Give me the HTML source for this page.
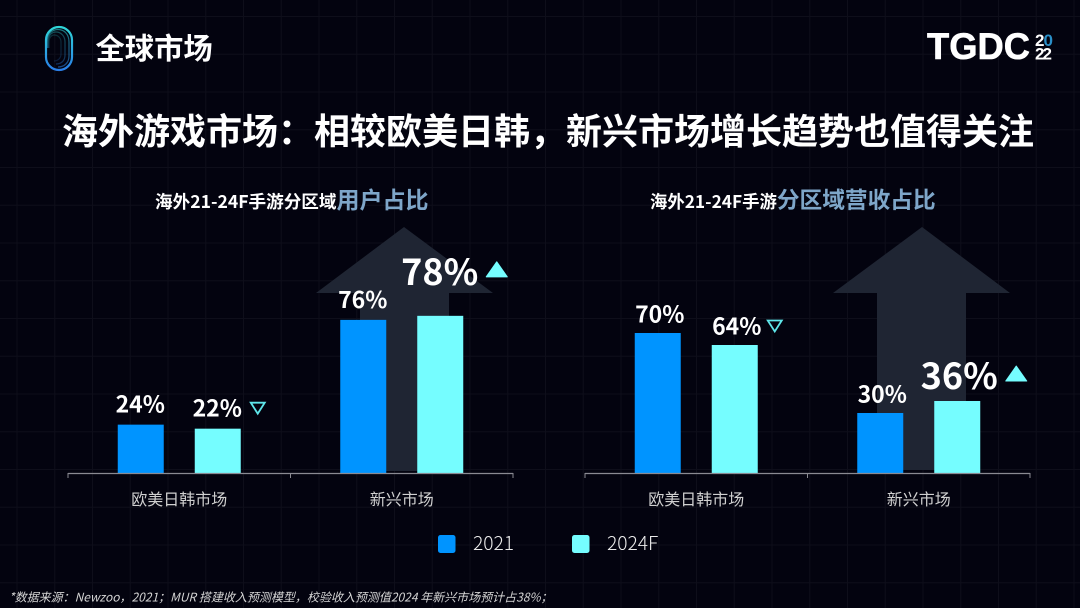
<!DOCTYPE html>
<html lang="zh">
<head>
<meta charset="utf-8">
<title>全球市场</title>
<style>
html,body{margin:0;padding:0;background:#03030f;}
#stage{position:relative;width:1080px;height:608px;overflow:hidden;background:#03030f;}
svg{display:block;position:absolute;left:0;top:0;}
text{font-family:"Liberation Sans","Noto Sans CJK SC",sans-serif;}
.cjk{font-family:"Noto Sans CJK SC","Liberation Sans",sans-serif;}
</style>
</head>
<body>
<div id="stage">
<svg id="svg" width="1080" height="608" viewBox="0 0 1080 608" xmlns="http://www.w3.org/2000/svg">
  <defs>
    <linearGradient id="logoGrad" x1="0" y1="0" x2="0" y2="1">
      <stop offset="0" stop-color="#2fd6d8"/>
      <stop offset="1" stop-color="#2a7fe8"/>
    </linearGradient>
  </defs>
  <g id="grid"></g>

  <g fill="none" stroke="url(#logoGrad)">
    <rect x="46" y="27" width="26" height="43" rx="13" stroke-width="2.2"/>
    <path d="M47 48 V42 C47 33 53 29.5 58 29.5 C64 29.5 69 34 69 42 V56 C69 63 64 67 58 67" stroke-width="1.2" opacity=".55"/>
    <path d="M48 48 V42 C48 35 52 32 56 32 C61 32 65 36 65 42 V55 C65 61 61 64 56 64" stroke-width="1.2" opacity=".35"/>
    <path d="M49 48 V42 C49 37 52 35 54 35 C58 35 61 38 61 42 V54 C61 58 58 61 54 61" stroke-width="1.2" opacity=".2"/>
  </g>
  <text class="cjk" x="95.5" y="59" font-size="29.3" font-weight="700" fill="#fff">全球市场</text>

  <g>
    <text x="927" y="59" font-size="37" font-weight="700" fill="#fff" stroke="#fff" stroke-width=".6" textLength="103" lengthAdjust="spacingAndGlyphs" style="font-family:'Liberation Sans',sans-serif">TGDC</text>
    <text x="1035" y="46.2" font-size="17" font-weight="700" fill="#fff">2</text>
    <text x="1043.5" y="46.2" font-size="17" font-weight="700" fill="#2a8fc8">0</text>
    <text x="1035" y="59.4" font-size="17" font-weight="700" fill="#fff" textLength="17">22</text>
  </g>

  <text class="cjk" x="62" y="144" font-size="36" font-weight="700" fill="#fff" textLength="972">海外游戏市场：相较欧美日韩，新兴市场增长趋势也值得关注</text>

  <text class="cjk" x="155" y="208" font-size="17.6" font-weight="700" fill="#fff">海外21-24F手游分区域<tspan font-size="23" fill="#7ea6c9">用户占比</tspan></text>
  <text class="cjk" x="650" y="208" font-size="17.35" font-weight="700" fill="#fff">海外21-24F手游<tspan font-size="22.7" fill="#7ea6c9">分区域营收占比</tspan></text>

  <polygon points="404,227 493,293 449,293 449,471 360,471 360,293 316,293" fill="#1f2533"/>
  <polygon points="922,227 1010,293 966,293 966,470 877,470 877,293 833,293" fill="#1f2533"/>

  <g id="charts"></g>

  <g>
    <g>
      <rect x="438" y="535" width="17.5" height="18" rx="2.5" fill="#0094ff"/>
      <text class="cjk" x="473" y="550" font-size="19.2" font-weight="300" fill="#ececec">2021</text>
    </g>
    <g>
      <rect x="572" y="535" width="17.5" height="18" rx="2.5" fill="#75fdff"/>
      <text class="cjk" x="607" y="550" font-size="19.2" font-weight="300" fill="#ececec">2024F</text>
    </g>
  </g>

  <text class="cjk" x="9" y="601.5" font-size="12" font-style="italic" fill="#d4d4d4">*数据来源：Newzoo，2021；MUR 搭建收入预测模型，校验收入预测值2024 年新兴市场预计占38%；</text>
</svg>
</div>
<script>
var categories = ['欧美日韩市场', '新兴市场'];
var seriesNames = ['2021', '2024F'];
var userShare2021 = [24, 76];
var userShare2024 = [22, 78];
var revenueShare2021 = [70, 30];
var revenueShare2024 = [64, 36];

var NS = 'http://www.w3.org/2000/svg';
var COLORS = ['#0094ff', '#75fdff'];
var BASE_Y = 473;
var BAR_W = 46;
var BAR_GAP = 31;

function make(tag, attrs, parent) {
  var el = document.createElementNS(NS, tag);
  for (var k in attrs) { el.setAttribute(k, attrs[k]); }
  parent.appendChild(el);
  return el;
}

/* background grid */
var gridG = document.getElementById('grid');
for (var gx = 17; gx < 1080; gx += 37.75) {
  var vLine = make('line', {x1: gx, x2: gx, y1: 0, y2: 608, stroke: '#0e0e1a', 'stroke-width': 1}, gridG);
  
  
}
for (var gy = 16.5; gy < 608; gy += 37.75) {
  var hLine = make('line', {x1: 0, x2: 1080, y1: gy, y2: gy, stroke: '#0e0e1a', 'stroke-width': 1}, gridG);
  
  
}

function drawChart(prefix, left, right, seriesA, seriesB, pxPerPct, bigLift, labelShift, smallLift) {
  var root = document.getElementById('charts');
  var band = (right - left) / categories.length;
  function yScale(v) { return BASE_Y - v * pxPerPct; }
  function bandCenter(i) { return left + band * (i + 0.5); }
  function barX(i, s) {
    var c = bandCenter(i);
    return s === 0 ? c - BAR_GAP / 2 - BAR_W : c + BAR_GAP / 2;
  }
  var all = [seriesA, seriesB];

  all.forEach(function (values, s) {
    values.forEach(function (v, i) {
      var bar = make('rect', {x: barX(i, s), y: yScale(v), width: BAR_W, height: BASE_Y - yScale(v), fill: COLORS[s]}, root);
      
      

      var up = seriesB[i] > seriesA[i];
      var big = s === 1 && up;
      var barMid = barX(i, s) + BAR_W / 2;
      var cx = barMid - 2 + labelShift;
      var baseline = yScale(v) - (big ? bigLift : smallLift);
      var label = make('text', {x: cx, y: baseline, 'text-anchor': 'middle', 'font-size': big ? 36 : 23, 'font-weight': 700, fill: '#fff', class: 'cjk'}, root);
      label.textContent = v + '%';
      
      

      if (s === 1) {
        var mark;
        if (big) {
          var tx = cx + 57;
          var ty = baseline - 8;
          mark = make('polygon', {points: (tx - 10.5) + ',' + ty + ' ' + tx + ',' + (ty - 15) + ' ' + (tx + 10.5) + ',' + ty, fill: '#75fdff', stroke: '#75fdff', 'stroke-width': 1, 'stroke-linejoin': 'round'}, root);
        } else {
          var dx = barMid + 40;
          var tb = baseline - 14;
          mark = make('polygon', {points: (dx - 7) + ',' + tb + ' ' + (dx + 7) + ',' + tb + ' ' + dx + ',' + (tb + 11), fill: 'none', stroke: '#5fe6ea', 'stroke-width': 1.8}, root);
        }
        
        
      }
    });
  });

  var axis = make('line', {x1: left, x2: right, y1: BASE_Y + 0.5, y2: BASE_Y + 0.5, stroke: '#8a8a92', 'stroke-width': 1.2}, root);
  
  

  for (var t = 0; t <= categories.length; t++) {
    var tickX = left + band * t;
    var tick = make('line', {x1: tickX, x2: tickX, y1: BASE_Y, y2: BASE_Y + 5, stroke: '#8a8a92', 'stroke-width': 1}, root);
    
    
  }

  categories.forEach(function (name, i) {
    var cat = make('text', {x: bandCenter(i), y: 505, 'text-anchor': 'middle', 'font-size': 16, fill: '#d0d0d0', class: 'cjk'}, root);
    cat.textContent = name;
    
    
  });
}

drawChart('left-chart', 68, 513, userShare2021, userShare2024, 2.015, 31, 1.5, 12);
drawChart('right-chart', 585, 1030, revenueShare2021, revenueShare2024, 2.0, 12, 4, 10.5);
</script>
</body>
</html>
